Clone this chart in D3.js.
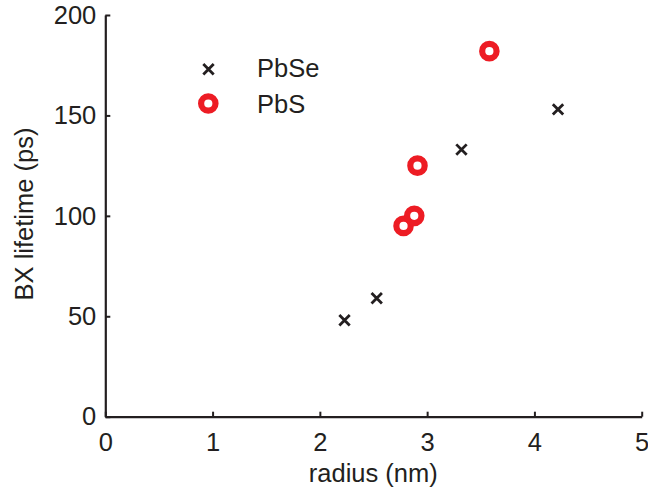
<!DOCTYPE html>
<html>
<head>
<meta charset="utf-8">
<script src="https://cdn.jsdelivr.net/npm/d3@7"></script>
<style>
  html, body { margin: 0; padding: 0; background: #fff; }
  svg { display: block; font-family: "Liberation Sans", Arial, Helvetica, sans-serif; }
</style>
</head>
<body>
<svg id="chart" width="648" height="490"></svg>
<script>
// Biexciton lifetime vs. nanocrystal radius
const pbseRadius = [2.23, 2.53, 3.32, 4.22];
const pbseLifetime = [48, 59, 133, 153];
const pbsRadius = [2.78, 2.88, 2.91, 3.58];
const pbsLifetime = [95, 100, 125, 182];
const xTicks = [0, 1, 2, 3, 4, 5];
const yTicks = [0, 50, 100, 150, 200];
const seriesNames = ["PbSe", "PbS"];

const ink = "#231f20";
const red = "#ed1c24";
const fontSize = 25.5;

const svg = d3.select("#chart");
const plotLeft = 105.3, plotRight = 641.7, plotTop = 15, plotBottom = 416.7;

const x = d3.scaleLinear().domain([0, 5]).range([plotLeft, plotRight]);
const y = d3.scaleLinear().domain([0, 200]).range([plotBottom, plotTop]);

// Axes: ticks point inward, no box
const xAxis = svg.append("g")
  .attr("transform", `translate(0,${plotBottom})`)
  .call(d3.axisBottom(x).tickValues(xTicks).tickSizeInner(-5).tickSizeOuter(0).tickPadding(16).tickFormat(d3.format("d")));
const yAxis = svg.append("g")
  .attr("transform", `translate(${plotLeft},0)`)
  .call(d3.axisLeft(y).tickValues(yTicks).tickSizeInner(-5).tickSizeOuter(0).tickPadding(9).tickFormat(d3.format("d")));

[xAxis, yAxis].forEach(g => {
  g.select(".domain").attr("stroke", ink).attr("stroke-width", 2.2);
  g.selectAll(".tick line").attr("stroke", ink).attr("stroke-width", 2);
  g.selectAll(".tick text").attr("fill", ink).attr("font-size", fontSize)
    .attr("font-family", "Liberation Sans, Arial, sans-serif");
});

// Axis titles
svg.append("text")
  .attr("x", 373.3).attr("y", 481.5)
  .attr("text-anchor", "middle").attr("font-size", fontSize).attr("fill", ink)
  .text("radius (nm)");
svg.append("text")
  .attr("transform", `translate(33,214) rotate(-90)`)
  .attr("text-anchor", "middle").attr("font-size", fontSize).attr("fill", ink)
  .text("BX lifetime (ps)");

// Marker drawers
const crossHalf = 5.2;
function cross(g, cx, cy) {
  g.append("path")
    .attr("d", `M${cx - crossHalf},${cy - crossHalf}L${cx + crossHalf},${cy + crossHalf}M${cx - crossHalf},${cy + crossHalf}L${cx + crossHalf},${cy - crossHalf}`)
    .attr("stroke", ink).attr("stroke-width", 2.8).attr("fill", "none");
}
function ring(g, cx, cy) {
  g.append("circle").attr("cx", cx).attr("cy", cy).attr("r", 7.2)
    .attr("fill", "none").attr("stroke", red).attr("stroke-width", 6.2);
}

const marks = svg.append("g");
pbseRadius.forEach((r, i) => cross(marks, x(r), y(pbseLifetime[i])));
pbsRadius.forEach((r, i) => ring(marks, x(r), y(pbsLifetime[i])));

// Legend
const legend = svg.append("g");
cross(legend, 208.5, 69.3);
ring(legend, 208.3, 103.5);
legend.append("text").attr("x", 257).attr("y", 77).attr("font-size", fontSize).attr("fill", ink).text(seriesNames[0]);
legend.append("text").attr("x", 257).attr("y", 112.5).attr("font-size", fontSize).attr("fill", ink).text(seriesNames[1]);
</script>
</body>
</html>
